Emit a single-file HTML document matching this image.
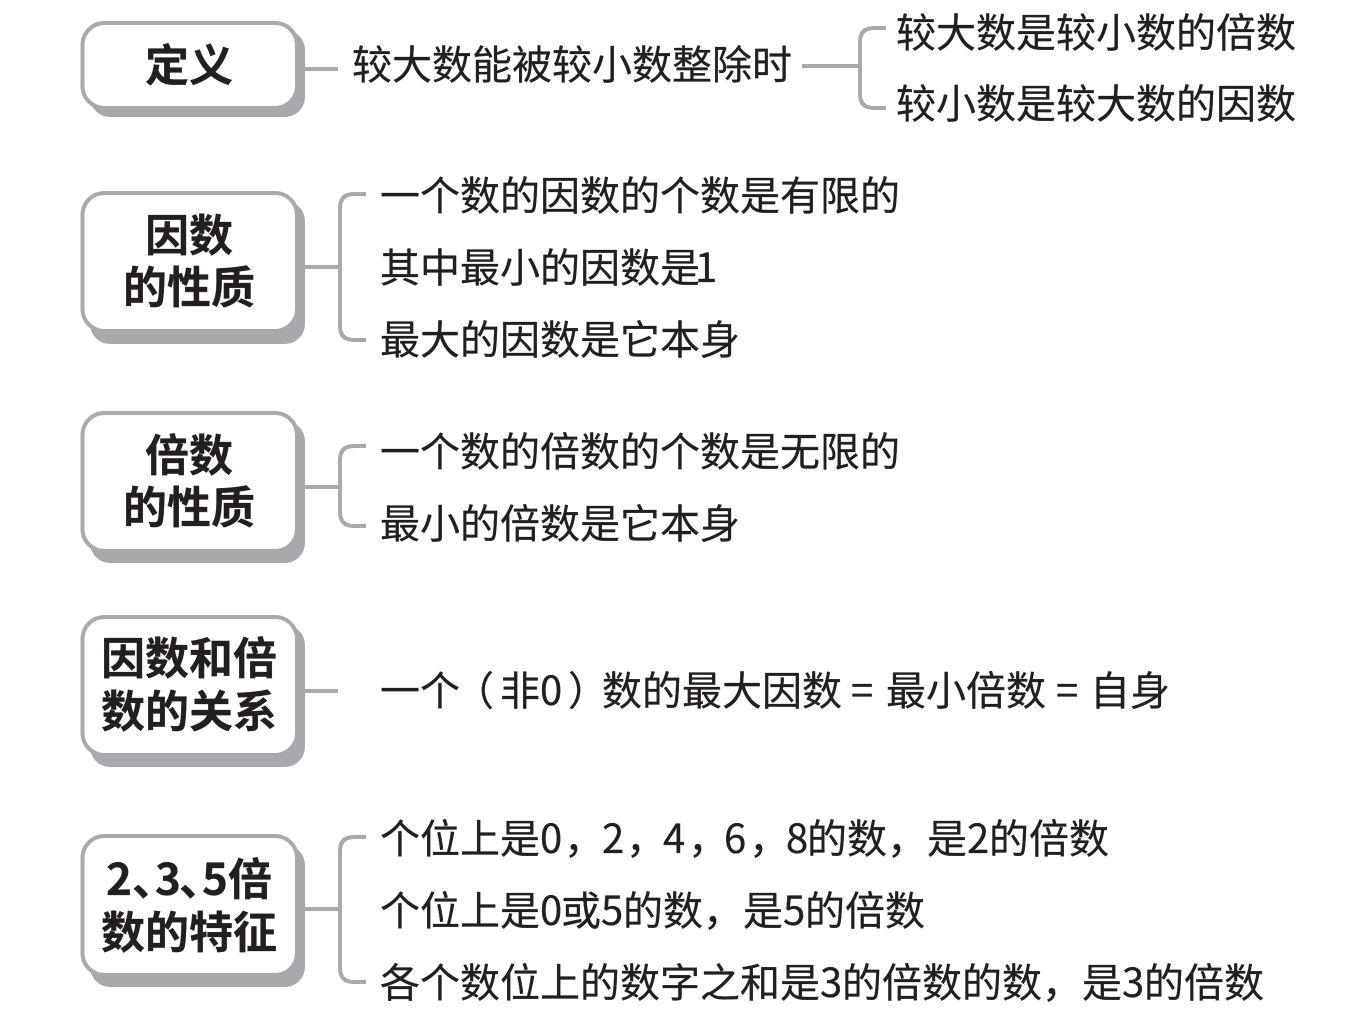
<!DOCTYPE html>
<html lang="zh"><head><meta charset="utf-8"><title>因数和倍数</title>
<style>
html,body{margin:0;padding:0;background:#fff}
svg{display:block}
text{font-family:"Noto Sans CJK SC",sans-serif;fill:#231f20;stroke:#231f20;stroke-width:.3px;stroke-linejoin:round}
.b{font-size:44px;font-weight:700;text-anchor:middle}
.bs{font-size:44px;font-weight:700}
.t{font-size:40px;font-weight:400}
.l{fill:none;stroke:#a7a9ac;stroke-width:4;stroke-linecap:butt}
.s{fill:#a7a9ac}
.w{fill:#fff;stroke:#a7a9ac;stroke-width:4}
</style></head><body>
<svg xmlns="http://www.w3.org/2000/svg" width="1365" height="1028" viewBox="0 0 1365 1028">
<rect class="s" x="90" y="30" width="215" height="87" rx="20"/>
<rect class="w" x="82.5" y="23" width="214.5" height="85" rx="22"/>
<rect class="s" x="90" y="201" width="215" height="143" rx="20"/>
<rect class="w" x="82.5" y="193" width="214.5" height="138" rx="22"/>
<rect class="s" x="90" y="421" width="215" height="142" rx="20"/>
<rect class="w" x="82.5" y="413" width="214.5" height="138" rx="22"/>
<rect class="s" x="90" y="625" width="215" height="142" rx="20"/>
<rect class="w" x="82.5" y="617" width="214.5" height="138" rx="22"/>
<rect class="s" x="90" y="845" width="215" height="142" rx="20"/>
<rect class="w" x="82.5" y="836" width="214.5" height="139" rx="22"/>

<path class="l" d="M305 69H338"/>
<path class="l" d="M802 66H860M886 28H874Q860 28 860 42V94Q860 108 874 108H886"/>
<path class="l" d="M305 267H340M366 194H354Q340 194 340 208V326Q340 340 354 340H366"/>
<path class="l" d="M305 487H340M366 446H354Q340 446 340 460V512Q340 526 354 526H366"/>
<path class="l" d="M305 691H338"/>
<path class="l" d="M305 909H340M366 837H354Q340 837 340 851V968Q340 982 354 982H366"/>

<text class="b" x="189" y="81">定义</text>
<text class="b" x="189" y="251">因数</text>
<text class="b" x="189" y="303">的性质</text>
<text class="b" x="189" y="471">倍数</text>
<text class="b" x="189" y="523">的性质</text>
<text class="b" x="189" y="674">因数和倍</text>
<text class="b" x="189" y="727">数的关系</text>
<text class="bs" y="895"><tspan x="106">2</tspan><tspan x="132">、</tspan><tspan x="155">3</tspan><tspan x="179">、</tspan><tspan x="202">5</tspan><tspan x="228">倍</tspan></text>
<text class="b" x="189" y="948">数的特征</text>

<text class="t" x="352" y="79">较大数能被较小数整除时</text>
<text class="t" x="896" y="47">较大数是较小数的倍数</text>
<text class="t" x="896" y="118">较小数是较大数的因数</text>
<text class="t" x="380" y="210">一个数的因数的个数是有限的</text>
<text class="t" y="282"><tspan x="380">其中最小的因数是</tspan><tspan x="695">1</tspan></text>
<text class="t" x="380" y="354">最大的因数是它本身</text>
<text class="t" x="380" y="466">一个数的倍数的个数是无限的</text>
<text class="t" x="380" y="538">最小的倍数是它本身</text>
<text class="t" y="705"><tspan x="380">一个</tspan><tspan x="454">（</tspan><tspan x="500">非0</tspan><tspan x="568">）</tspan><tspan x="602">数的最大因数</tspan><tspan x="851">=</tspan><tspan x="886">最小倍数</tspan><tspan x="1056">=</tspan><tspan x="1090">自身</tspan></text>
<text class="t" y="853"><tspan x="380">个位上是0</tspan><tspan x="564">，</tspan><tspan x="602">2</tspan><tspan x="626">，</tspan><tspan x="663">4</tspan><tspan x="688">，</tspan><tspan x="724">6</tspan><tspan x="749">，</tspan><tspan x="786">8</tspan><tspan x="807">的数，</tspan><tspan x="927">是</tspan><tspan x="967">2</tspan><tspan x="989">的倍数</tspan></text>
<text class="t" y="925"><tspan x="380">个位上是0</tspan><tspan x="561">或</tspan><tspan x="601">5</tspan><tspan x="623">的数，</tspan><tspan x="743">是</tspan><tspan x="783">5</tspan><tspan x="805">的倍数</tspan></text>
<text class="t" y="997"><tspan x="380">各个数位上的数字之和是</tspan><tspan x="820">3</tspan><tspan x="842">的倍数的数，</tspan><tspan x="1082">是</tspan><tspan x="1122">3</tspan><tspan x="1144">的倍数</tspan></text>
</svg>
</body></html>
